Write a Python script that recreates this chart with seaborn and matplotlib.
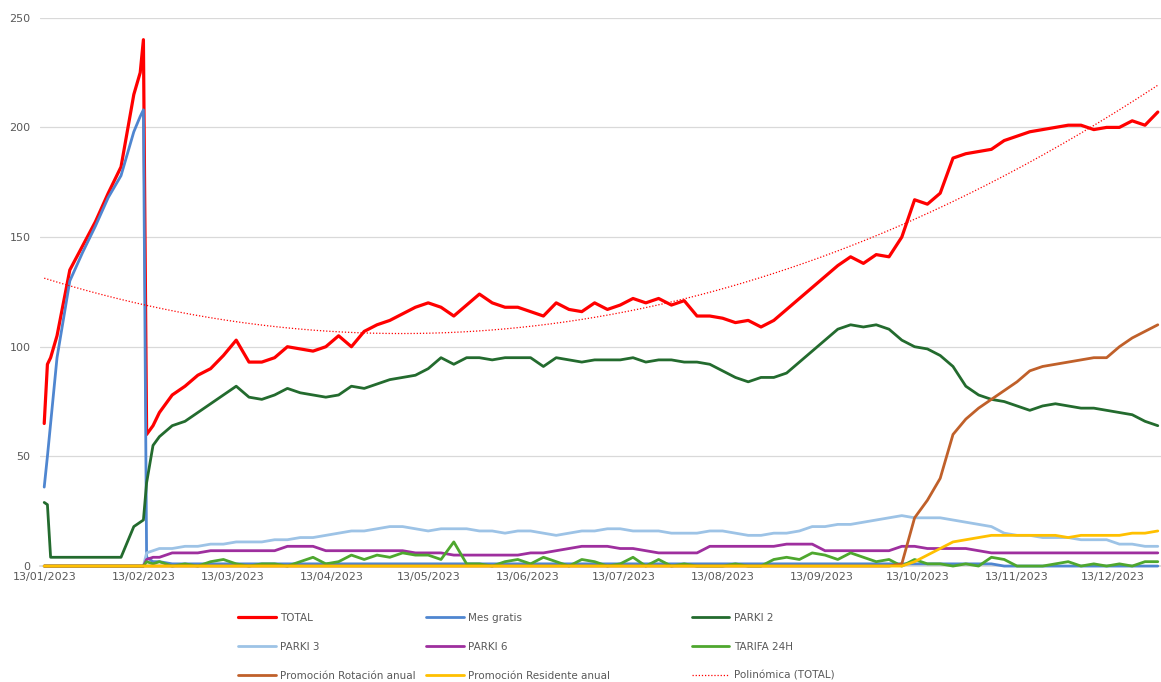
import numpy as np
import pandas as pd
import matplotlib.pyplot as plt
import matplotlib.dates as mdates
import seaborn as sns

days = [0, 1, 2, 4, 8, 12, 16, 20, 24, 28, 30, 31, 32, 34,
        36, 40, 44, 48, 52, 56, 60, 64, 68, 72,
        76, 80, 84, 88, 92, 96, 100, 104, 108, 112,
        116, 120, 124, 128, 132, 136, 140, 144, 148, 152,
        156, 160, 164, 168, 172, 176, 180, 184, 188, 192,
        196, 200, 204, 208, 212, 216, 220, 224, 228, 232,
        236, 240, 244, 248, 252, 256, 260, 264, 268, 272,
        276, 280, 284, 288, 292, 296, 300, 304, 308, 312,
        316, 320, 324, 328, 332, 336, 340, 344, 348]

total = [65, 92, 95, 105, 135, 146, 157, 170, 182, 215, 225, 240, 60, 64,
         70, 78, 82, 87, 90, 96, 103, 93, 93, 95,
         100, 99, 98, 100, 105, 100, 107, 110, 112, 115,
         118, 120, 118, 114, 119, 124, 120, 118, 118, 116,
         114, 120, 117, 116, 120, 117, 119, 122, 120, 122,
         119, 121, 114, 114, 113, 111, 112, 109, 112, 117,
         122, 127, 132, 137, 141, 138, 142, 141, 150, 167,
         165, 170, 186, 188, 189, 190, 194, 196, 198, 199,
         200, 201, 201, 199, 200, 200, 203, 201, 207]

mes_gratis = [36, 50, 65, 95, 130, 143, 155, 168, 178, 198, 205, 208, 4, 2,
              2, 1, 1, 1, 1, 1, 1, 1, 1, 1,
              1, 1, 1, 1, 1, 1, 1, 1, 1, 1,
              1, 1, 1, 1, 1, 1, 1, 1, 1, 1,
              1, 1, 1, 1, 1, 1, 1, 1, 1, 1,
              1, 1, 1, 1, 1, 1, 1, 1, 1, 1,
              1, 1, 1, 1, 1, 1, 1, 1, 1, 1,
              1, 1, 1, 1, 1, 1, 0, 0, 0, 0,
              0, 0, 0, 0, 0, 0, 0, 0, 0]

parki2 = [29, 28, 4, 4, 4, 4, 4, 4, 4, 18, 20, 21, 38, 55,
          59, 64, 66, 70, 74, 78, 82, 77, 76, 78,
          81, 79, 78, 77, 78, 82, 81, 83, 85, 86,
          87, 90, 95, 92, 95, 95, 94, 95, 95, 95,
          91, 95, 94, 93, 94, 94, 94, 95, 93, 94,
          94, 93, 93, 92, 89, 86, 84, 86, 86, 88,
          93, 98, 103, 108, 110, 109, 110, 108, 103, 100,
          99, 96, 91, 82, 78, 76, 75, 73, 71, 73,
          74, 73, 72, 72, 71, 70, 69, 66, 64]

parki3 = [0, 0, 0, 0, 0, 0, 0, 0, 0, 0, 0, 0, 6, 7,
          8, 8, 9, 9, 10, 10, 11, 11, 11, 12,
          12, 13, 13, 14, 15, 16, 16, 17, 18, 18,
          17, 16, 17, 17, 17, 16, 16, 15, 16, 16,
          15, 14, 15, 16, 16, 17, 17, 16, 16, 16,
          15, 15, 15, 16, 16, 15, 14, 14, 15, 15,
          16, 18, 18, 19, 19, 20, 21, 22, 23, 22,
          22, 22, 21, 20, 19, 18, 15, 14, 14, 13,
          13, 13, 12, 12, 12, 10, 10, 9, 9]

parki6 = [0, 0, 0, 0, 0, 0, 0, 0, 0, 0, 0, 0, 3, 4,
          4, 6, 6, 6, 7, 7, 7, 7, 7, 7,
          9, 9, 9, 7, 7, 7, 7, 7, 7, 7,
          6, 6, 6, 5, 5, 5, 5, 5, 5, 6,
          6, 7, 8, 9, 9, 9, 8, 8, 7, 6,
          6, 6, 6, 9, 9, 9, 9, 9, 9, 10,
          10, 10, 7, 7, 7, 7, 7, 7, 9, 9,
          8, 8, 8, 8, 7, 6, 6, 6, 6, 6,
          6, 6, 6, 6, 6, 6, 6, 6, 6]

tarifa24h = [0, 0, 0, 0, 0, 0, 0, 0, 0, 0, 0, 0, 2, 1,
             2, 0, 1, 0, 2, 3, 1, 0, 1, 1,
             0, 2, 4, 1, 2, 5, 3, 5, 4, 6,
             5, 5, 3, 11, 1, 1, 0, 2, 3, 1,
             4, 2, 0, 3, 2, 0, 1, 4, 0, 3,
             0, 1, 0, 0, 0, 1, 0, 0, 3, 4,
             3, 6, 5, 3, 6, 4, 2, 3, 0, 3,
             1, 1, 0, 1, 0, 4, 3, 0, 0, 0,
             1, 2, 0, 1, 0, 1, 0, 2, 2]

rotacion = [0, 0, 0, 0, 0, 0, 0, 0, 0, 0, 0, 0, 0, 0,
            0, 0, 0, 0, 0, 0, 0, 0, 0, 0,
            0, 0, 0, 0, 0, 0, 0, 0, 0, 0,
            0, 0, 0, 0, 0, 0, 0, 0, 0, 0,
            0, 0, 0, 0, 0, 0, 0, 0, 0, 0,
            0, 0, 0, 0, 0, 0, 0, 0, 0, 0,
            0, 0, 0, 0, 0, 0, 0, 0, 1, 22,
            30, 40, 60, 67, 72, 76, 80, 84, 89, 91,
            92, 93, 94, 95, 95, 100, 104, 107, 110]

residente = [0, 0, 0, 0, 0, 0, 0, 0, 0, 0, 0, 0, 0, 0,
             0, 0, 0, 0, 0, 0, 0, 0, 0, 0,
             0, 0, 0, 0, 0, 0, 0, 0, 0, 0,
             0, 0, 0, 0, 0, 0, 0, 0, 0, 0,
             0, 0, 0, 0, 0, 0, 0, 0, 0, 0,
             0, 0, 0, 0, 0, 0, 0, 0, 0, 0,
             0, 0, 0, 0, 0, 0, 0, 0, 0, 2,
             5, 8, 11, 12, 13, 14, 14, 14, 14, 14,
             14, 13, 14, 14, 14, 14, 15, 15, 16]

names = ['TOTAL', 'Mes gratis', 'PARKI 2', 'PARKI 3', 'PARKI 6', 'TARIFA 24H',
         'Promoción Rotación anual', 'Promoción Residente anual']
values = [total, mes_gratis, parki2, parki3, parki6, tarifa24h, rotacion, residente]
colors = ['#FF0000', '#4F86D0', '#236B2E', '#9DC3E6', '#9E2F9E', '#4EA72E',
          '#C0602A', '#FFC000']
widths = [2.3, 2.0, 2.0, 2.0, 2.0, 2.0, 2.0, 2.0]

sns.set_theme(style='white')
plt.rcParams['font.family'] = ['DejaVu Sans']

start = pd.Timestamp('2023-01-13')
dates = start + pd.to_timedelta(days, unit='D')

fig = plt.figure(figsize=(11.61, 6.82), dpi=100)
ax = fig.add_axes([0.0345, 0.170, 0.9655, 0.804])

handles = {}
for name, vals, c, lw in zip(names, values, colors, widths):
    sns.lineplot(x=dates, y=vals, color=c, lw=lw, ax=ax, legend=False,
                 clip_on=False, zorder=3)
    handles[name] = ax.lines[-1]

# polynomial (order 2) trendline of TOTAL, like the Excel one
coef = np.polyfit(days, total, 2)
tdays = np.linspace(days[0], days[-1], 300)
sns.lineplot(x=start + pd.to_timedelta(tdays, unit='D'), y=np.polyval(coef, tdays),
             color='#FF0000', lw=0.9, linestyle=(0, (1, 1.5)), ax=ax, legend=False,
             zorder=3)
handles['Polinómica (TOTAL)'] = ax.lines[-1]

ax.set_ylim(0, 250)
ax.set_yticks([0, 50, 100, 150, 200, 250])
ax.set_xlim(start - pd.Timedelta(days=1.3), start + pd.Timedelta(days=349))
ax.set_xticks(pd.date_range('2023-01-13', '2023-12-13', freq=pd.DateOffset(months=1)))
ax.xaxis.set_major_formatter(mdates.DateFormatter('%d/%m/%Y'))
ax.set_xlabel('')
ax.set_ylabel('')
ax.grid(axis='y', color='#D9D9D9', lw=0.9)
ax.set_axisbelow(True)
for s in ['top', 'right', 'left']:
    ax.spines[s].set_visible(False)
ax.spines['bottom'].set_color('#D9D9D9')
ax.spines['bottom'].set_zorder(1)
ax.tick_params(axis='both', length=0, labelsize=8, colors='#595959')
ax.tick_params(axis='y', pad=7)
ax.tick_params(axis='x', pad=4)

# legend in three columns placed like the Excel one
columns = [['TOTAL', 'PARKI 3', 'Promoción Rotación anual'],
           ['Mes gratis', 'PARKI 6', 'Promoción Residente anual'],
           ['PARKI 2', 'TARIFA 24H', 'Polinómica (TOTAL)']]
col_x = [0.205, 0.367, 0.596]
for keys, cx in zip(columns, col_x):
    fig.legend([handles[k] for k in keys], keys, loc='upper left',
               bbox_to_anchor=(cx, 0.101), borderaxespad=0, borderpad=0,
               frameon=False, fontsize=7.5, handlelength=3.6, handletextpad=0.4,
               labelspacing=1.8, labelcolor='#595959')

plt.savefig('out.png', dpi=100)
